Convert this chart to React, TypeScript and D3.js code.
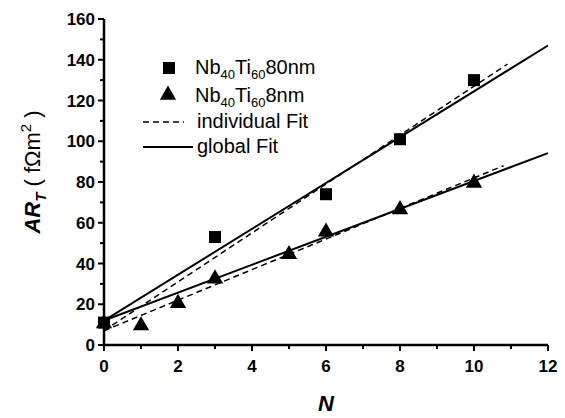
import React from "react";
import * as d3 from "d3";

const squareN = [0, 3, 6, 8, 10];
const squareAR = [11, 53, 74, 101, 130];
const triN = [0, 1, 2, 3, 5, 6, 8, 10];
const triAR = [11, 10, 21, 33, 45, 56, 67, 80];

// fits: [intercept, slope, xEnd]
const globalFit80 = [12, 11.25, 12];
const globalFit8 = [12, 6.85, 12];
const indivFit80 = [7, 12.0, 10.9];
const indivFit8 = [7, 7.5, 10.8];

const xTicks = [0, 2, 4, 6, 8, 10, 12];
const yTicks = [0, 20, 40, 60, 80, 100, 120, 140, 160];

const W = 565, H = 418;
const x = d3.scaleLinear().domain([0, 12]).range([104, 548]);
const y = d3.scaleLinear().domain([0, 160]).range([345, 19]);
const font = "Liberation Sans, Arial, sans-serif";

function fitPath(f: number[]) {
  const line = d3.line<number>().x((n) => x(n)).y((n) => y(f[0] + f[1] * n));
  return line([0, f[2]]) || "";
}

export default function App() {
  const xMinor = d3.range(1, 12, 2);
  const yMinor = d3.range(10, 160, 20);
  const tri = d3.symbol().type(d3.symbolTriangle).size(115)() || "";
  return (
    <svg width={W} height={H} style={{ display: "block", position: "absolute", left: 0, top: 0 }}>
      <rect width={W} height={H} fill="white" />
      {/* fits */}
      <path d={fitPath(globalFit80)} stroke="black" strokeWidth={2} fill="none" />
      <path d={fitPath(globalFit8)} stroke="black" strokeWidth={2} fill="none" />
      <path d={fitPath(indivFit80)} stroke="black" strokeWidth={1.5} strokeDasharray="6,4" fill="none" />
      <path d={fitPath(indivFit8)} stroke="black" strokeWidth={1.5} strokeDasharray="6,4" fill="none" />
      {/* markers */}
      {squareN.map((n, i) => (
        <rect key={"s" + i} x={x(n) - 6} y={y(squareAR[i]) - 6} width={12} height={12} fill="black" />
      ))}
      {triN.map((n, i) => (
        <path key={"t" + i} d={tri} transform={`translate(${x(n)},${y(triAR[i]) + 1})`} fill="black" />
      ))}
      {/* axes */}
      <line x1={x(0)} x2={x(12)} y1={y(0)} y2={y(0)} stroke="black" strokeWidth={2.5} />
      <line x1={x(0)} x2={x(0)} y1={y(0)} y2={y(160)} stroke="black" strokeWidth={2.5} />
      {xTicks.map((t) => (
        <g key={"xt" + t}>
          <line x1={x(t)} x2={x(t)} y1={y(0)} y2={y(0) + 6} stroke="black" strokeWidth={2} />
          <text x={x(t)} y={y(0) + 27} textAnchor="middle" fontFamily={font} fontWeight="bold" fontSize={17}>{t}</text>
        </g>
      ))}
      {xMinor.map((t) => (
        <line key={"xm" + t} x1={x(t)} x2={x(t)} y1={y(0)} y2={y(0) + 4} stroke="black" strokeWidth={2} />
      ))}
      {yTicks.map((t) => (
        <g key={"yt" + t}>
          <line x1={x(0) - 6} x2={x(0)} y1={y(t)} y2={y(t)} stroke="black" strokeWidth={2} />
          <text x={x(0) - 9} y={y(t) + 6} textAnchor="end" fontFamily={font} fontWeight="bold" fontSize={17}>{t}</text>
        </g>
      ))}
      {yMinor.map((t) => (
        <line key={"ym" + t} x1={x(0) - 4} x2={x(0)} y1={y(t)} y2={y(t)} stroke="black" strokeWidth={2} />
      ))}
      {/* axis titles */}
      <text x={x(6)} y={411} textAnchor="middle" fontFamily={font} fontWeight="bold" fontStyle="italic" fontSize={22}>N</text>
      <text transform="translate(40,172) rotate(-90)" textAnchor="middle" fontFamily={font} fontSize={22}>
        <tspan fontWeight="bold" fontStyle="italic">AR</tspan>
        <tspan fontWeight="bold" fontStyle="italic" fontSize={15} dy={6}>T</tspan>
        <tspan dy={-6}>{" ( fΩm"}</tspan>
        <tspan fontSize={15} dy={-9}>2</tspan>
        <tspan dy={9}>{" )"}</tspan>
      </text>
      {/* legend */}
      <rect x={163} y={62} width={12} height={12} fill="black" />
      <text x={195} y={74} fontFamily={font} fontSize={20}>
        Nb<tspan fontSize={13} dy={5}>40</tspan><tspan dy={-5}>Ti</tspan><tspan fontSize={13} dy={5}>60</tspan><tspan dy={-5}>80nm</tspan>
      </text>
      <path d={tri} transform="translate(168,95)" fill="black" />
      <text x={195} y={102} fontFamily={font} fontSize={20}>
        Nb<tspan fontSize={13} dy={5}>40</tspan><tspan dy={-5}>Ti</tspan><tspan fontSize={13} dy={5}>60</tspan><tspan dy={-5}>8nm</tspan>
      </text>
      <line x1={143} x2={184} y1={122} y2={122} stroke="black" strokeWidth={1.5} strokeDasharray="6,4" />
      <text x={197} y={128} fontFamily={font} fontSize={20}>individual Fit</text>
      <line x1={143} x2={193} y1={147} y2={147} stroke="black" strokeWidth={2} />
      <text x={197} y={153} fontFamily={font} fontSize={20}>global Fit</text>
    </svg>
  );
}
